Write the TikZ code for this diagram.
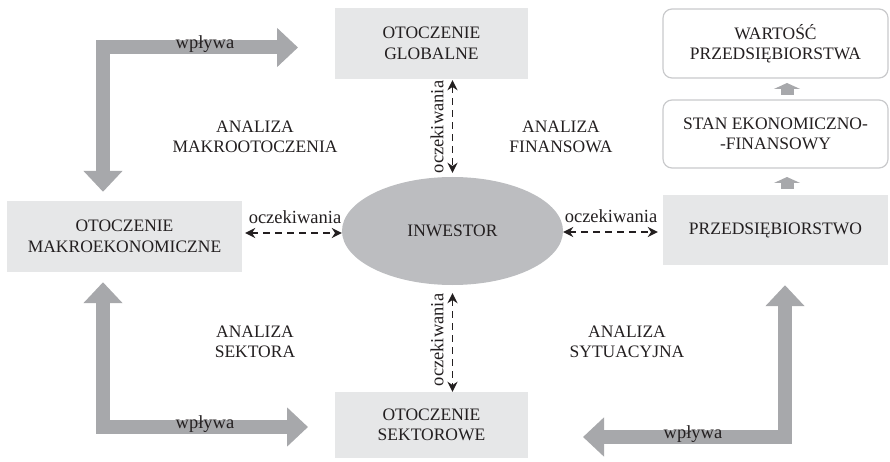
\documentclass[tikz,border=0pt]{standalone}
\usepackage{fontspec}
\setmainfont{Liberation Serif}
\usetikzlibrary{arrows.meta,shapes.geometric,calc}
\definecolor{boxfill}{HTML}{E6E7E8}
\definecolor{ovalfill}{HTML}{BCBDC0}
\definecolor{arrowgray}{HTML}{A7A8AB}
\definecolor{framegray}{HTML}{C9CACC}
\definecolor{ink}{HTML}{231F20}
\tikzset{
  capsfont/.style={font=\fontsize{17.5}{20.5}\selectfont, text=ink},
  plainbox/.style={capsfont, fill=boxfill, draw=none, align=center, inner sep=0pt},
  roundbox/.style={capsfont, fill=white, draw=framegray, line width=1.2pt, rounded corners=9pt, align=center, inner sep=0pt},
  oval/.style={capsfont, ellipse, fill=ovalfill, draw=none, inner sep=0pt},
  caption/.style={capsfont, align=center},
  lowlabel/.style={font=\fontsize{18.5}{20}\selectfont, text=ink, inner sep=0pt},
  expect/.style={draw=ink, line width=1.8pt, dash pattern=on 7pt off 5pt,
    {Stealth[length=10pt,width=10pt]}-{Stealth[length=10pt,width=10pt]}},
  bigarrow/.style={draw=arrowgray, line width=14pt, line join=miter, line cap=butt,
    {Triangle[length=21pt,width=38pt]}-{Triangle[length=21pt,width=38pt]}},
  smallarrow/.style={draw=arrowgray, line width=13pt, line cap=butt,
    -{Triangle[length=6pt,width=26pt]}},
}
\begin{document}
\begin{tikzpicture}[x=1pt,y=-1pt]
\useasboundingbox (0,0) rectangle (890,462);

% boxes
\node[plainbox, minimum width=193pt, minimum height=71pt] (global) at (431.5,43.5) {OTOCZENIE\\GLOBALNE};
\node[plainbox, minimum width=235pt, minimum height=71pt] (makro) at (124.5,236.5) {OTOCZENIE\\MAKROEKONOMICZNE};
\node[plainbox, minimum width=193pt, minimum height=66pt] (sektor) at (431.5,425) {OTOCZENIE\\SEKTOROWE};
\node[plainbox, minimum width=225pt, minimum height=70pt] (firma) at (775.5,230) {PRZEDSIĘBIORSTWO};
\node[roundbox, minimum width=225pt, minimum height=68pt] (stan) at (775.5,134) {STAN EKONOMICZNO-\\-FINANSOWY};
\node[roundbox, minimum width=225pt, minimum height=69pt] (wartosc) at (775.5,43.5) {WARTOŚĆ\\PRZEDSIĘBIORSTWA};
\node[oval, minimum width=221pt, minimum height=108pt] (inwestor) at (452.5,231) {INWESTOR};

% analysis captions
\node[caption] (amakro) at (255,137) {ANALIZA\\MAKROOTOCZENIA};
\node[caption] (afin) at (561,137) {ANALIZA\\FINANSOWA};
\node[caption] (asekt) at (255,342) {ANALIZA\\SEKTORA};
\node[caption] (asyt) at (627,342) {ANALIZA\\SYTUACYJNA};

% expectations (dashed, both ways)
\draw[expect] ([xshift=3pt]makro.east |- 0,233) -- (inwestor.west |- 0,233);
\node[lowlabel, anchor=south] (lblL) at (295,224) {oczekiwania};
\draw[expect] (inwestor.east |- 0,232) -- ([xshift=-5pt]firma.west |- 0,232);
\node[lowlabel, anchor=south] (lblR) at (611,223) {oczekiwania};
\draw[expect] ([yshift=-1pt]global.south -| inwestor.center) -- ([yshift=4pt]inwestor.north);
\node[lowlabel, rotate=90] (lblU) at (437,127) {oczekiwania};
\draw[expect] ([yshift=-8pt]inwestor.south) -- (sektor.north -| inwestor.center);
\node[lowlabel, rotate=90] (lblD) at (437,340) {oczekiwania};

% influence arrows
\coordinate (tlc) at (103,47.5);
\coordinate (blc) at (103,427);
\coordinate (brc) at (785,437);
\draw[bigarrow] ([yshift=9pt]makro.north -| tlc) -- (tlc) -- (298,47.5) coordinate (tlend);
\node[lowlabel] (w1) at (205,44) {wpływa};
\draw[bigarrow] ([yshift=-10pt]makro.south -| blc) -- (blc) -- (308,427) coordinate (blend);
\node[lowlabel] (w2) at (205,424) {wpływa};
\draw[bigarrow] ([yshift=-20pt]firma.south -| brc) -- (brc) -- (583,437) coordinate (brend);
\node[lowlabel] (w3) at (693,434) {wpływa};

% small arrows in the right column
\draw[smallarrow] (787,95) -- (787,83);
\draw[smallarrow] (787,189) -- (787,177);
\end{tikzpicture}
\end{document}
